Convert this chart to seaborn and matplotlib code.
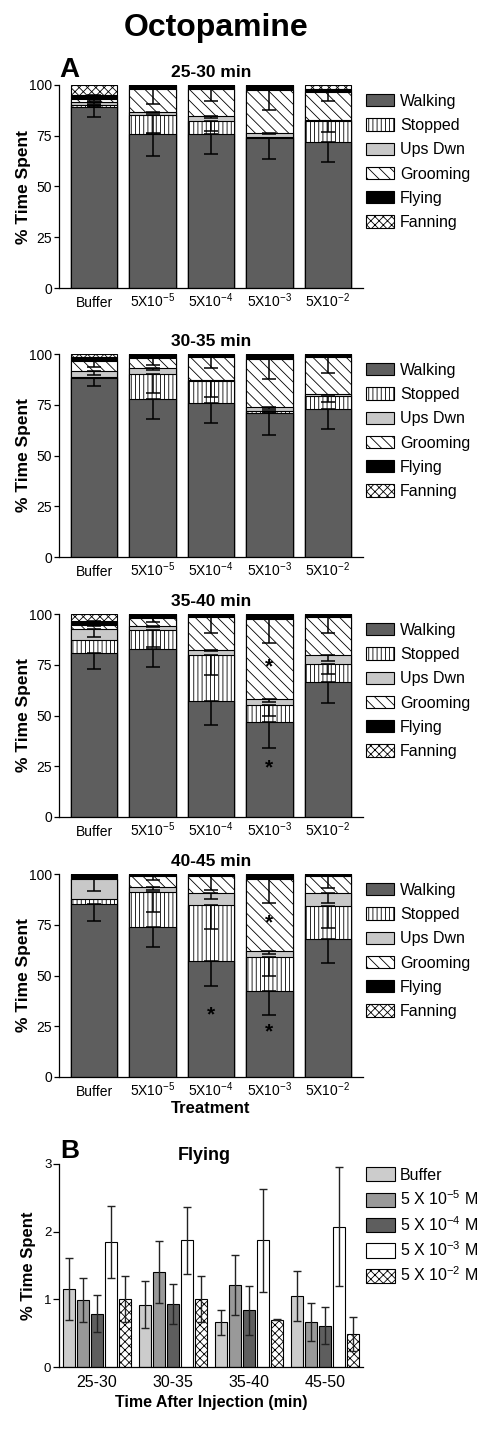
import numpy as np
import pandas as pd
import matplotlib
matplotlib.use("Agg")
import matplotlib.pyplot as plt
from matplotlib.patches import Patch
import seaborn as sns

# ---------- DATA ----------
treatments = ["Buffer", "5X10$^{-5}$", "5X10$^{-4}$", "5X10$^{-3}$", "5X10$^{-2}$"]
behaviors = ["Walking", "Stopped", "Ups Dwn", "Grooming", "Flying", "Fanning"]
windows = ["25-30 min", "30-35 min", "35-40 min", "40-45 min"]

# % time spent, rows = behaviours, columns = treatments
pct_25_30 = [[89, 76, 76, 74, 72],
             [1, 9, 6.5, 0.5, 10.5],
             [1.5, 1.5, 2, 2, 0.5],
             [1.5, 11.5, 13.5, 21, 13.5],
             [2, 2, 2, 2.5, 1.5],
             [5, 0, 0, 0, 2]]
err_25_30 = [[5, 11, 10, 10.5, 10],
             [1, 8.5, 5, 0, 5.5],
             [1, 0.5, 1, 0.5, 0],
             [1, 7.5, 6, 10, 4.5],
             [0.5, 0, 0, 0, 0],
             [0, 0, 0, 0, 0]]

pct_30_35 = [[88, 78, 76, 71, 73],
             [0.5, 12, 10.5, 1, 6.5],
             [3, 3, 0.5, 2, 1],
             [5, 5, 11.5, 23.5, 18],
             [2, 2, 1.5, 2.5, 1.5],
             [1.5, 0, 0, 0, 0]]
err_30_35 = [[4, 10, 10, 11, 10],
             [0, 9, 7.5, 0.5, 3],
             [2, 1, 0, 1, 0],
             [3, 3.5, 5.5, 10, 8],
             [0, 0, 0, 0, 0],
             [0, 0, 0, 0, 0]]

pct_35_40 = [[81, 83, 57, 47, 66.5],
             [6, 9, 23, 8, 9],
             [5.5, 2, 2.5, 3, 4.5],
             [2, 4, 16, 39.5, 18.5],
             [2, 2, 1.5, 2.5, 1.5],
             [3.5, 0, 0, 0, 0]]
err_35_40 = [[8, 9, 11.5, 13, 10.5],
             [0, 8.5, 10, 5, 5],
             [4, 0.5, 0.5, 1.5, 3],
             [0.5, 2, 8, 12, 8],
             [0.5, 0, 0, 0, 0],
             [0, 0, 0, 0, 0]]

pct_40_45 = [[85, 74, 57, 42.5, 68],
             [2.5, 17, 27.5, 16.5, 16],
             [10, 2.5, 6, 3, 6.5],
             [0, 5.5, 8.5, 35.5, 8.5],
             [2.5, 1, 1, 2.5, 1],
             [0, 0, 0, 0, 0]]
err_40_45 = [[8, 10, 12, 12, 12],
             [0, 9.5, 11.5, 9, 10.5],
             [6, 1.5, 3, 1.5, 5],
             [0, 2, 7, 12, 6],
             [0, 0, 0, 0, 0],
             [0, 0, 0, 0, 0]]

# significance stars (treatment index, % level)
stars_35_40 = [(3, 75), (3, 25)]
stars_40_45 = [(2, 31.5), (3, 77), (3, 23)]

# panel B: flying
intervals = ["25-30", "30-35", "35-40", "45-50"]
concs = ["Buffer", "5 X 10$^{-5}$ M", "5 X 10$^{-4}$ M", "5 X 10$^{-3}$ M", "5 X 10$^{-2}$ M"]
fly_buffer = [1.15, 0.92, 0.66, 1.05]
fly_5e5 = [0.99, 1.40, 1.21, 0.66]
fly_5e4 = [0.79, 0.93, 0.84, 0.61]
fly_5e3 = [1.85, 1.87, 1.87, 2.07]
fly_5e2 = [1.01, 1.01, 0.70, 0.49]
fly_err_buffer = [0.46, 0.35, 0.18, 0.37]
fly_err_5e5 = [0.33, 0.46, 0.44, 0.28]
fly_err_5e4 = [0.27, 0.30, 0.36, 0.27]
fly_err_5e3 = [0.53, 0.50, 0.76, 0.88]
fly_err_5e2 = [0.34, 0.34, 0.01, 0.25]

# ---------- STYLE ----------
sns.set_theme(style="ticks")
plt.rcParams["font.family"] = ["Liberation Sans", "DejaVu Sans"]
plt.rcParams["mathtext.fontset"] = "custom"
plt.rcParams["mathtext.rm"] = "Liberation Sans"
plt.rcParams["mathtext.it"] = "Liberation Sans:italic"
plt.rcParams["mathtext.bf"] = "Liberation Sans:bold"
plt.rcParams["hatch.linewidth"] = 0.6
plt.rcParams["hatch.color"] = "black"
plt.rcParams["axes.linewidth"] = 0.9
for key in ["text.color", "axes.labelcolor", "xtick.color", "ytick.color", "axes.edgecolor"]:
    plt.rcParams[key] = "black"

seg_colors = ["#5e5e5e", "white", "#c8c8c8", "white", "black", "white"]
seg_hatch = [None, "||||", None, "\\\\\\", None, "xxxx"]
conc_colors = ["#cccccc", "#999999", "#5e5e5e", "white", "white"]
conc_hatch = [None, None, None, None, "xxxx"]

W, H = 492, 1440
fig = plt.figure(figsize=(W / 100, H / 100), dpi=100)


def px_axes(bottom_px):
    return fig.add_axes([59 / W, 1 - bottom_px / H, 304 / W, 203 / H])


def stacked_panel(ax, pct, err, title, stars, show_xlabel=False):
    pct = np.array(pct, dtype=float)
    err = np.array(err, dtype=float)
    cum = pct.cumsum(axis=0)
    # draw cumulative heights from the top layer down so each one covers the next
    for i in range(len(behaviors) - 1, -1, -1):
        d = pd.DataFrame({"Treatment": treatments, "pct": cum[i]})
        sns.barplot(data=d, x="Treatment", y="pct", order=treatments,
                    color=seg_colors[i], saturation=1, hatch=seg_hatch[i],
                    edgecolor="black", linewidth=0.8, width=0.8,
                    errorbar=None, ax=ax)
    xs = np.arange(len(treatments))
    for i in range(len(behaviors)):
        m = err[i] > 0
        if m.any():
            ax.errorbar(xs[m], cum[i][m], yerr=[err[i][m], np.zeros(m.sum())],
                        fmt="none", ecolor="black", elinewidth=1.1,
                        capsize=5.2, capthick=1.1, zorder=5)
    for xi, yv in stars:
        ax.text(xi, yv - 1, "*", ha="center", va="center", fontsize=15,
                fontweight="bold", color="black", zorder=6)
    ax.set_xlim(-0.6, 4.6)
    ax.set_ylim(0, 100)
    ax.set_yticks([0, 25, 50, 75, 100])
    ax.tick_params(axis="y", labelsize=10, length=3.5, width=0.9, pad=1.5)
    ax.tick_params(axis="x", labelsize=10, length=0, pad=14)
    for lbl in ax.get_xticklabels():
        lbl.set_verticalalignment("baseline")
    ax.set_ylabel("% Time Spent", fontsize=12.5, fontweight="bold")
    ax.yaxis.set_label_coords(-0.093, 0.5)
    ax.set_xlabel("Treatment" if show_xlabel else "", fontsize=12, fontweight="bold", labelpad=1)
    ax.set_title(title, fontsize=12.5, fontweight="bold", pad=5.5)
    sns.despine(ax=ax)
    handles = [Patch(facecolor=seg_colors[i], edgecolor="black", hatch=seg_hatch[i],
                     linewidth=0.8, label=behaviors[i]) for i in range(len(behaviors))]
    ax.legend(handles=handles, loc="upper left", bbox_to_anchor=(0.98, 1.0),
              frameon=False, fontsize=11.5, handlelength=1.8, handleheight=0.8,
              handletextpad=0.35, labelspacing=0.58, borderaxespad=0.0, borderpad=0.55)


fig.text(216 / W, 1 - 36 / H, "Octopamine", ha="center", va="baseline",
         fontsize=23, fontweight="bold")

panels = [(288, pct_25_30, err_25_30, []),
          (557, pct_30_35, err_30_35, []),
          (817, pct_35_40, err_35_40, stars_35_40),
          (1077, pct_40_45, err_40_45, stars_40_45)]
for k, (bpx, pct, err, stars) in enumerate(panels):
    ax = px_axes(bpx)
    stacked_panel(ax, pct, err, windows[k], stars, show_xlabel=(k == 3))

fig.text(59 / W, 1 - 77 / H, "A", ha="left", va="baseline", fontsize=20, fontweight="bold")

# ---------- PANEL B ----------
fly_means = [fly_buffer, fly_5e5, fly_5e4, fly_5e3, fly_5e2]
fly_errs = [fly_err_buffer, fly_err_5e5, fly_err_5e4, fly_err_5e3, fly_err_5e2]
rows = []
for c, means in zip(concs, fly_means):
    for iv, v in zip(intervals, means):
        rows.append({"Interval": iv, "Conc": c, "Flying": v})
df_fly = pd.DataFrame(rows)

axb = px_axes(1367)
sns.barplot(data=df_fly, x="Interval", y="Flying", hue="Conc", order=intervals,
            hue_order=concs, palette=conc_colors, saturation=1, width=0.925,
            gap=0.16, edgecolor="black", linewidth=0.8, errorbar=None,
            legend=False, ax=axb)
bar_groups = list(axb.containers)
for j, cont in enumerate(bar_groups):
    xc = []
    for bar in cont:
        if conc_hatch[j]:
            bar.set_hatch(conc_hatch[j])
        xc.append(bar.get_x() + bar.get_width() / 2)
    axb.errorbar(xc, fly_means[j], yerr=fly_errs[j], fmt="none", ecolor="#222222",
                 elinewidth=1.0, capsize=2.6, capthick=1.0, zorder=5)
axb.set_xlim(-0.5, 3.5)
axb.set_ylim(0, 3)
axb.set_yticks([0, 1, 2, 3])
axb.tick_params(axis="y", labelsize=9.5, length=4, width=0.9, pad=1.5)
axb.tick_params(axis="x", labelsize=11.5, length=0, pad=6)
axb.set_ylabel("% Time Spent", fontsize=12, fontweight="bold")
axb.yaxis.set_label_coords(-0.076, 0.5)
axb.set_xlabel("Time After Injection (min)", fontsize=11.5, fontweight="bold", labelpad=3)
axb.set_title("Flying", fontsize=13, fontweight="bold", pad=3, x=0.477)
sns.despine(ax=axb)
handles_b = [Patch(facecolor=conc_colors[j], edgecolor="black", hatch=conc_hatch[j],
                   linewidth=0.8, label=concs[j]) for j in range(len(concs))]
axb.legend(handles=handles_b, loc="upper left", bbox_to_anchor=(1.0, 1.0),
           frameon=False, fontsize=11.5, handlelength=1.8, handleheight=1.0,
           handletextpad=0.3, labelspacing=0.42, borderaxespad=0.0, borderpad=0.2)

fig.text(60 / W, 1 - 1158 / H, "B", ha="left", va="baseline", fontsize=19, fontweight="bold")

fig.savefig("out.png", dpi=100)
